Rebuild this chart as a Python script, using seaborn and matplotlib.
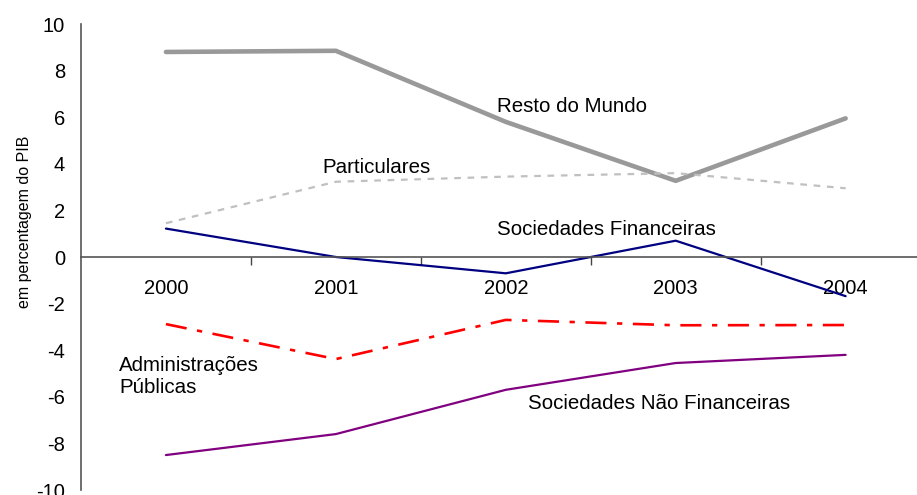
import numpy as np
import pandas as pd
import matplotlib
matplotlib.use("Agg")
import matplotlib.pyplot as plt
import seaborn as sns

# valores (em % do PIB)
years = ["2000", "2001", "2002", "2003", "2004"]
resto_mundo = [8.8, 8.85, 5.8, 3.27, 5.95]
particulares = [1.45, 3.23, 3.45, 3.6, 2.95]
soc_financeiras = [1.22, 0.0, -0.7, 0.7, -1.68]
adm_publicas = [-2.88, -4.38, -2.7, -2.93, -2.92]
soc_nao_financeiras = [-8.5, -7.6, -5.7, -4.55, -4.2]

series = {
    "Resto do Mundo": resto_mundo,
    "Particulares": particulares,
    "Sociedades Financeiras": soc_financeiras,
    "Administrações Públicas": adm_publicas,
    "Sociedades Não Financeiras": soc_nao_financeiras,
}

styles = {
    "Resto do Mundo": dict(color="#999999", lw=3.3, ls="-"),
    "Particulares": dict(color="#c0c0c0", lw=1.6, ls=(0, (3, 3))),
    "Sociedades Financeiras": dict(color="#000080", lw=1.6, ls="-"),
    "Administrações Públicas": dict(color="#ff0000", lw=1.9, ls=(0, (8, 4, 2, 4))),
    "Sociedades Não Financeiras": dict(color="#800080", lw=1.6, ls="-"),
}

df = pd.DataFrame(series)
df["pos"] = np.arange(len(years))

sns.set_style("white")
plt.rcParams["font.family"] = ["Liberation Sans", "DejaVu Sans"]
plt.rcParams["axes.unicode_minus"] = False
plt.rcParams["text.color"] = "black"

fig = plt.figure(figsize=(9.17, 4.95), dpi=100)
ax = fig.add_axes([0.0883, 0.0101, 0.9117, 0.9414])

for name in series:
    st = styles[name]
    sns.lineplot(data=df, x="pos", y=name, ax=ax, color=st["color"],
                 linewidth=st["lw"], linestyle=st["ls"])

ax.set_yticks(np.arange(-10, 11, 2))
ax.tick_params(axis="y", labelsize=14.5, length=6.5, width=1, color="#444444",
               labelcolor="black", direction="out", pad=5)

ax.set_xticks(np.arange(len(years)))
ax.set_xticklabels(years)
ax.set_xticks(np.arange(len(years) - 1) + 0.5, minor=True)
ax.tick_params(axis="x", which="major", length=0, labelsize=14.5, pad=16,
               labelcolor="black")
ax.tick_params(axis="x", which="minor", length=6, width=1, color="#444444",
               direction="out", bottom=True)

# limites depois dos ticks (set_xticks alarga a vista)
ax.set_xlim(-0.5, 4.42)
ax.set_ylim(-10, 10)

ax.spines["top"].set_visible(False)
ax.spines["right"].set_visible(False)
ax.spines["bottom"].set_position(("data", 0))
for s in ["left", "bottom"]:
    ax.spines[s].set_color("#555555")
    ax.spines[s].set_linewidth(1.2)

ax.set_xlabel("")
ax.set_ylabel("em percentagem do PIB", fontsize=11.5, color="black")
ax.yaxis.set_label_coords(-0.058, 0.575)

fs = 14.8
ax.text(1.947, 6.44, "Resto do Mundo", fontsize=fs, va="center")
ax.text(0.921, 3.82, "Particulares", fontsize=fs, va="center")
ax.text(1.947, 1.2, "Sociedades Financeiras", fontsize=fs, va="center")
ax.text(-0.276, -5.13, "Administrações\nPúblicas", fontsize=fs, va="center",
        linespacing=1.2)
ax.text(2.129, -6.27, "Sociedades Não Financeiras", fontsize=fs, va="center")

fig.savefig("out.png", dpi=100)
